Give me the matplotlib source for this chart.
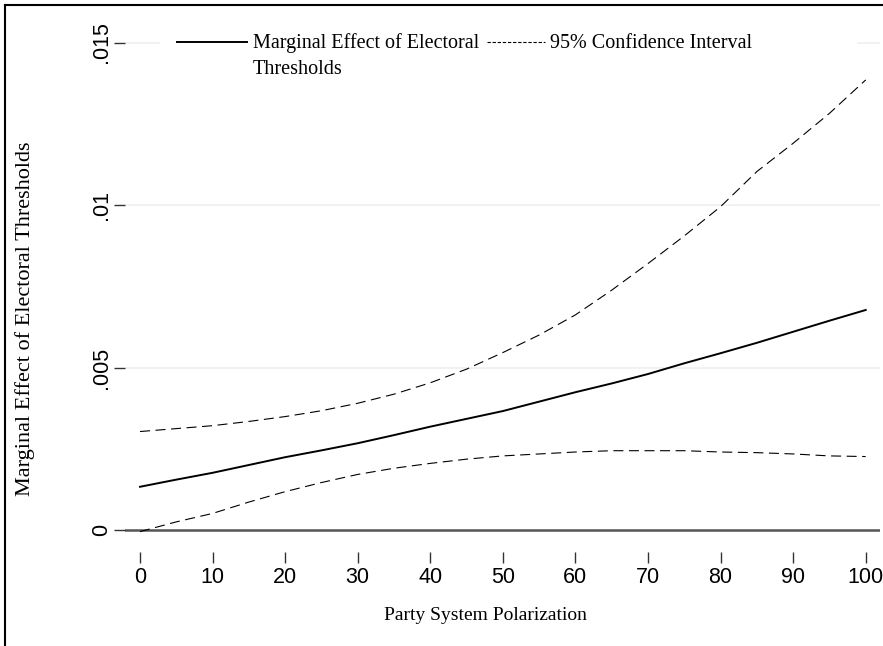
import matplotlib
matplotlib.use("Agg")
import matplotlib.pyplot as plt
from matplotlib.lines import Line2D
from matplotlib.patches import Rectangle

# data
polarization = [0, 5, 10, 15, 20, 25, 30, 35, 40, 45, 50,
                55, 60, 65, 70, 75, 80, 85, 90, 95, 100]
marginal_effect = [0.00133, 0.00155, 0.00176, 0.00200, 0.00224, 0.00245, 0.00267, 0.00292,
                   0.00318, 0.00342, 0.00366, 0.00395, 0.00424, 0.00451, 0.00480, 0.00513,
                   0.00544, 0.00576, 0.00610, 0.00644, 0.00677]
ci_upper = [0.00303, 0.00312, 0.00321, 0.00334, 0.00349, 0.00367, 0.00390, 0.00418,
            0.00453, 0.00495, 0.00546, 0.00600, 0.00662, 0.00738, 0.00820, 0.00905,
            0.00995, 0.01103, 0.01190, 0.01282, 0.01385]
ci_lower = [-0.00005, 0.00025, 0.00051, 0.00086, 0.00118, 0.00146, 0.00171, 0.00190,
            0.00205, 0.00218, 0.00228, 0.00234, 0.00240, 0.00244, 0.00244, 0.00244,
            0.00240, 0.00238, 0.00234, 0.00228, 0.00226]
xticks = list(range(0, 101, 10))
yticks = [0, 0.005, 0.01, 0.015]
yticklabels = ["0", ".005", ".01", ".015"]
legend_labels = [["Marginal Effect of Electoral", "Thresholds"], ["95% Confidence Interval"]]

SERIF = "Liberation Serif"
SANS = "Liberation Sans"

W, H = 883, 646
fig = plt.figure(figsize=(W / 100, H / 100), dpi=100)
fig.patch.set_facecolor("white")

# plot region in pixels: x 125..880, y 25..535
ax = fig.add_axes([125 / W, 1 - 535 / H, 755 / W, 510 / H])
ax.set_xlim(-2.07, 101.97)
ax.set_ylim(-0.000154, 0.01554)

for s in ax.spines.values():
    s.set_visible(False)
ax.spines["bottom"].set_position(("outward", 12))

ax.set_xticks(xticks)
ax.set_xticklabels([str(t) for t in xticks], fontfamily=SANS, fontsize=15.5)
ax.set_yticks(yticks)
ax.set_yticklabels(yticklabels, fontfamily=SANS, fontsize=15.5, rotation=90, va="center")
ax.tick_params(axis="x", length=8, width=1, color="#333333", pad=3)
ax.tick_params(axis="y", length=8, width=1, color="#333333", pad=1.5)

# faint grid lines
for v in yticks[1:]:
    ax.axhline(v, color="#f0f0f0", lw=1.2, zorder=0)
# zero reference line
ax.axhline(0, color="#555555", lw=1.8, zorder=1)

ax.plot(polarization, ci_upper, color="black", lw=0.8, dashes=(9, 5), zorder=3)
ax.plot(polarization, ci_lower, color="black", lw=0.8, dashes=(9, 5), zorder=3)
ax.plot(polarization, marginal_effect, color="black", lw=1.4, zorder=4)


def fx(px):
    return px / W


def fy(py):
    return 1 - py / H


# legend, drawn by hand so the handle sits on the first line
fig.add_artist(Rectangle((fx(160), fy(82)), fx(857) - fx(160), fy(28) - fy(82),
                         transform=fig.transFigure, facecolor="white", edgecolor="none", zorder=5))
fig.add_artist(Line2D([fx(177), fx(247)], [fy(42), fy(42)], transform=fig.transFigure,
                      color="black", lw=1.4, zorder=6))
for i, line in enumerate(legend_labels[0]):
    fig.text(fx(253), fy(48 + 26 * i), line, fontfamily=SERIF, fontsize=14.5,
             va="baseline", ha="left", zorder=6)
fig.add_artist(Line2D([fx(487), fx(545)], [fy(42), fy(42)], transform=fig.transFigure,
                      color="black", lw=0.8, dashes=(3, 1.6), zorder=6))
fig.text(fx(550), fy(48), legend_labels[1][0], fontfamily=SERIF, fontsize=14.5,
         va="baseline", ha="left", zorder=6)

# axis titles
fig.text(fx(25), fy(319), "Marginal Effect of Electoral Thresholds", fontfamily=SERIF,
         fontsize=16, rotation=90, ha="center", va="center")
fig.text(fx(485), fy(615), "Party System Polarization", fontfamily=SERIF, fontsize=14,
         ha="center", va="center")

# outer frame (only top and left edges are visible)
fig.add_artist(Line2D([fx(5), fx(5)], [0, fy(5)], transform=fig.transFigure, color="black", lw=1.5))
fig.add_artist(Line2D([fx(5), 1], [fy(5), fy(5)], transform=fig.transFigure, color="black", lw=1.5))

fig.savefig("out.png", dpi=100)
